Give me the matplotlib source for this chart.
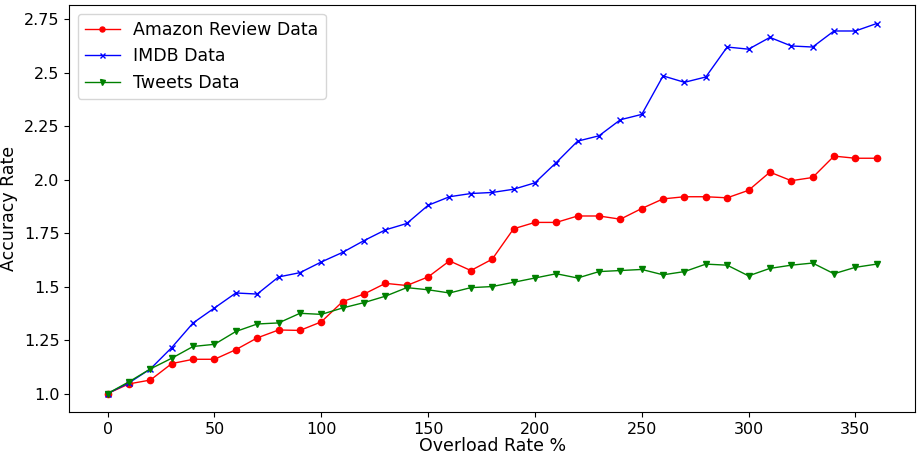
import numpy as np
import matplotlib.pyplot as plt

# data
overload = list(range(0, 370, 10))
amazon = [1.0, 1.045, 1.063, 1.14, 1.16, 1.16, 1.205, 1.26, 1.297, 1.295,
          1.335, 1.43, 1.465, 1.515, 1.505, 1.545, 1.62, 1.575, 1.628, 1.77,
          1.80, 1.80, 1.83, 1.83, 1.815, 1.865, 1.91, 1.92, 1.92, 1.915,
          1.95, 2.035, 1.995, 2.01, 2.11, 2.10, 2.10]
imdb = [1.0, 1.05, 1.115, 1.215, 1.33, 1.40, 1.47, 1.465, 1.545, 1.565,
        1.615, 1.66, 1.715, 1.765, 1.795, 1.88, 1.92, 1.935, 1.94, 1.955,
        1.985, 2.08, 2.18, 2.205, 2.28, 2.305, 2.485, 2.455, 2.48, 2.62,
        2.61, 2.665, 2.625, 2.62, 2.695, 2.695, 2.73]
tweets = [1.0, 1.055, 1.115, 1.165, 1.22, 1.23, 1.29, 1.325, 1.33, 1.375,
          1.37, 1.40, 1.425, 1.455, 1.495, 1.485, 1.47, 1.495, 1.50, 1.52,
          1.54, 1.56, 1.54, 1.57, 1.575, 1.58, 1.555, 1.57, 1.605, 1.60,
          1.55, 1.585, 1.60, 1.61, 1.56, 1.59, 1.605]

fig = plt.figure(figsize=(9.17, 4.55), dpi=100)
ax = fig.add_axes([0.0755, 0.0945, 0.9225, 0.8945])

ax.plot(overload, amazon, color='red', marker='o', markersize=4.5, linewidth=1, label='Amazon Review Data')
ax.plot(overload, imdb, color='blue', marker='x', markersize=4.5, linewidth=1, label='IMDB Data')
ax.plot(overload, tweets, color='green', marker='v', markersize=4.5, linewidth=1, label='Tweets Data')

ax.set_xlabel('Overload Rate %', fontsize=12.5, labelpad=0)
ax.set_ylabel('Accuracy Rate', fontsize=12.5)
ax.set_yticks([1.0, 1.25, 1.5, 1.75, 2.0, 2.25, 2.5, 2.75])
ax.set_yticklabels(['1.0', '1.25', '1.5', '1.75', '2.0', '2.25', '2.5', '2.75'])
ax.tick_params(labelsize=11.5)
ax.legend(fontsize=12.5, loc='upper left', markerscale=0.8)

plt.savefig('out.png')
